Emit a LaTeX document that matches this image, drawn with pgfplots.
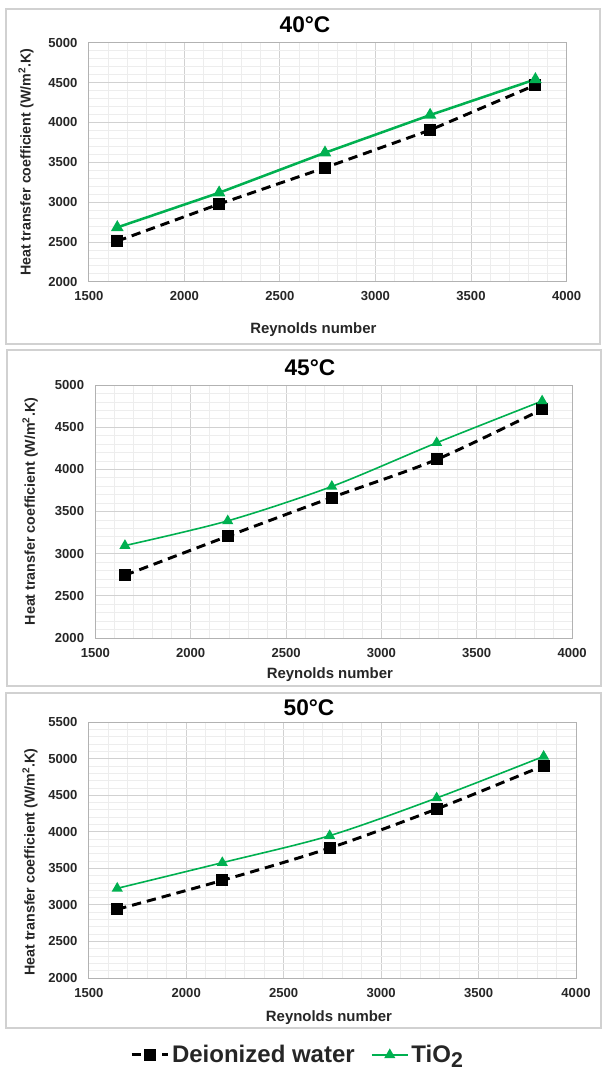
\documentclass[border=0pt]{standalone}
\usepackage{pgfplots}
\pgfplotsset{compat=1.18}
\usepackage{fontspec}
\setmainfont{Liberation Sans}
\definecolor{tgreen}{RGB}{0,176,80}
\pgfplotsset{
 panel/.style={
  scale only axis,
  xmin=1500,xmax=4000,
  xtick distance=500, ytick distance=500,
  minor x tick num=4, minor y tick num=4,
  grid=both,
  major grid style={draw=black!18, line width=0.6pt},
  minor grid style={draw=black!7, line width=0.5pt},
  axis line style={draw=black!30, line width=0.6pt},
  major tick length=0pt, minor tick length=0pt,
  /pgf/number format/assume math mode=true,
  /pgf/number format/1000 sep={},
  scaled ticks=false,
  tick label style={font=\bfseries\fontsize{9.8}{10}\selectfont, text=black!85},
  yticklabel style={xshift=-5pt},
  xticklabel style={yshift=-4pt},
  xlabel style={font=\bfseries\fontsize{11.2}{12}\selectfont, text=black!85},
  ylabel style={font=\bfseries\fontsize{10.7}{12}\selectfont, text=black!85},
  title style={font=\bfseries\fontsize{17}{18}\selectfont, anchor=center},
  ylabel={Heat transfer coefficient (W/m\textsuperscript{2}.K)},
  xlabel={Reynolds number},
 },
 dw/.style={black, line width=2.2pt, dash pattern=on 7pt off 4.5pt, mark=square*, mark size=3.4pt, mark options={solid}},
 ti/.style={tgreen, mark=triangle*, mark size=3.6pt, mark options={solid}},
}
\begin{document}
\begin{tikzpicture}
\begin{scope}[x=0.75pt,y=-0.75pt]
\path (0,0) rectangle (602,1070);
\draw[black!18, line width=0.8pt] (6,9) rectangle (600,344);
\draw[black!18, line width=0.8pt] (7,350) rectangle (601,686);
\draw[black!18, line width=0.8pt] (6,693) rectangle (601,1028);
\end{scope}

% Panel 1
\begin{axis}[panel, at={(66.6pt,-211.3pt)}, anchor=south west,
  width=358.3pt, height=179.25pt, ymin=2000, ymax=5000,
  title={40°C}, title style={at={(axis description cs:0.4526,1)}, yshift=7.3pt},
  xlabel style={at={(axis description cs:0.470,0)}, anchor=center, yshift=-36pt},
  ylabel style={at={(axis description cs:-0.1315,0.5)}, anchor=center}]
\addplot[dw] coordinates {(1649,2510) (2182,2975) (2736,3431) (3286,3904) (3837,4469)};
\addplot[ti, line width=1.9pt] coordinates {(1649,2682) (2182,3117) (2736,3619) (3286,4092) (3837,4540)};
\end{axis}

% Panel 2
\begin{axis}[panel, at={(71.55pt,-478.5pt)}, anchor=south west,
  width=357.5pt, height=189.75pt, ymin=2000, ymax=5000,
  title={45°C}, title style={at={(axis description cs:0.450,1)}, yshift=6.75pt},
  xlabel style={at={(axis description cs:0.492,0)}, anchor=center, yshift=-27.75pt},
  ylabel style={at={(axis description cs:-0.137,0.5)}, anchor=center}]
\addplot[dw, smooth, tension=0.5] coordinates {(1655,2744) (2194,3207) (2740,3666) (3290,4117) (3843,4711)};
\addplot[ti, smooth, tension=0.5, line width=1.2pt] coordinates {(1655,3096) (2194,3389) (2740,3797) (3290,4315) (3843,4810)};
\end{axis}

% Panel 3
\begin{axis}[panel, at={(66.6pt,-733.5pt)}, anchor=south west,
  width=365.4pt, height=192pt, ymin=2000, ymax=5500,
  title={50°C}, title style={at={(axis description cs:0.452,1)}, yshift=4.5pt},
  xlabel style={at={(axis description cs:0.493,0)}, anchor=center, yshift=-30pt},
  ylabel style={at={(axis description cs:-0.1207,0.453)}, anchor=center},
  legend style={at={(axis description cs:0.429,-0.30)}, anchor=center, draw=none, fill=none,
    font=\bfseries\fontsize{18}{19}\selectfont, text=black!85,
    /tikz/every even column/.append style={column sep=10pt}},
  legend columns=2,
  legend image code/.code={\draw[mark repeat=2,mark phase=2,#1] plot coordinates {(0cm,0cm) (0.48cm,0cm) (0.96cm,0cm)};}]
\addplot[dw, smooth, tension=0.5] coordinates {(1646,2939) (2185,3335) (2736,3777) (3285,4311) (3834,4903)};
\addlegendentry{Deionized water}
\addplot[ti, smooth, tension=0.5, line width=1.2pt] coordinates {(1646,3226) (2185,3577) (2736,3946) (3285,4461) (3834,5030)};
\addlegendentry{TiO\raisebox{-0.4ex}{\fontsize{16}{16}\selectfont 2}}
\end{axis}
\end{tikzpicture}
\end{document}
